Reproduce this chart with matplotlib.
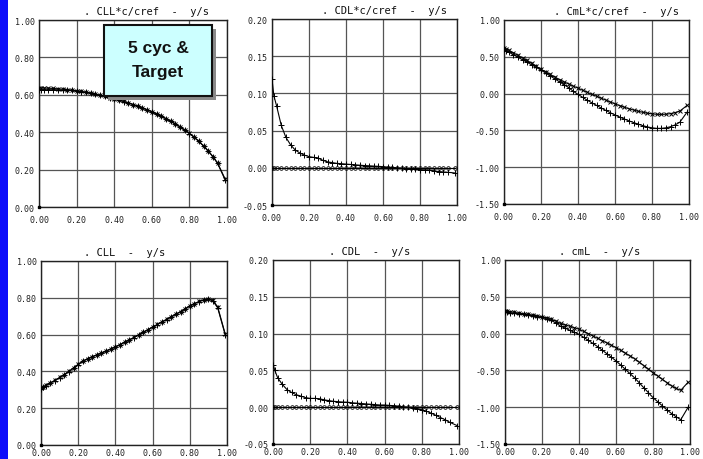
"""
Spanwise load distributions: 5-cycle design vs. target.

Six panels of sectional lift, drag and pitching moment against y/s,
each shown both chord-weighted (x c/cref) and as plain coefficients.
"""

import matplotlib.pyplot as plt
from matplotlib.patches import Rectangle

# ---------------------------------------------------------------------------
# Data (spanwise stations and sectional values)
# ---------------------------------------------------------------------------

eta = [0.000, 0.010, 0.025, 0.050, 0.075, 0.100, 0.125, 0.150, 0.175, 0.200,
       0.225, 0.250, 0.275, 0.300, 0.325, 0.350, 0.375, 0.400,
       0.425, 0.450, 0.475, 0.500, 0.525, 0.550, 0.575, 0.600,
       0.625, 0.650, 0.675, 0.700, 0.725, 0.750, 0.775, 0.800,
       0.825, 0.850, 0.875, 0.900, 0.925, 0.950, 0.990]

# CLL*c/cref
cllc_target = [0.636, 0.636, 0.636, 0.635, 0.634, 0.632, 0.630, 0.628, 0.625, 0.622,
               0.618, 0.614, 0.609, 0.603, 0.597, 0.591, 0.585, 0.578,
               0.571, 0.565, 0.557, 0.548, 0.540, 0.530, 0.520, 0.510,
               0.498, 0.486, 0.473, 0.459, 0.445, 0.429, 0.412, 0.394,
               0.374, 0.352, 0.327, 0.300, 0.270, 0.235, 0.150]
cllc_5cyc = [0.624, 0.625, 0.626, 0.627, 0.627, 0.627, 0.626, 0.625, 0.623, 0.620,
             0.617, 0.613, 0.608, 0.603, 0.597, 0.591, 0.585, 0.578,
             0.571, 0.564, 0.556, 0.548, 0.539, 0.529, 0.519, 0.509,
             0.497, 0.485, 0.472, 0.458, 0.444, 0.428, 0.411, 0.393,
             0.373, 0.351, 0.326, 0.299, 0.269, 0.233, 0.145]

# CDL*c/cref
cdlc_target = [0.0, 0.0, 0.0, 0.0, 0.0, 0.0, 0.0, 0.0, 0.0, 0.0,
               0.0, 0.0, 0.0, 0.0, 0.0, 0.0, 0.0, 0.0,
               0.0, 0.0, 0.0, 0.0, 0.0, 0.0, 0.0, 0.0,
               0.0, 0.0, 0.0, 0.0, 0.0, 0.0, 0.0, 0.0,
               0.0, 0.0, 0.0, 0.0, 0.0, 0.0, 0.0]
cdlc_5cyc = [0.119, 0.097, 0.083, 0.057, 0.041, 0.031, 0.024, 0.020, 0.017, 0.015,
             0.014, 0.013, 0.010, 0.008, 0.007, 0.006, 0.0055, 0.005,
             0.0045, 0.004, 0.0035, 0.003, 0.0027, 0.0023, 0.002, 0.0015,
             0.001, 0.0005, 0.0, -0.0005, -0.001, -0.0015, -0.002, -0.0025,
             -0.003, -0.0035, -0.004, -0.005, -0.0055, -0.006, -0.007]

# CmL*c/cref
cmlc_target = [0.625, 0.610, 0.590, 0.555, 0.520, 0.485, 0.450, 0.410, 0.370, 0.330,
               0.295, 0.260, 0.225, 0.190, 0.160, 0.130, 0.100, 0.075,
               0.045, 0.018, -0.010, -0.036, -0.062, -0.088, -0.114, -0.140,
               -0.163, -0.185, -0.205, -0.223, -0.240, -0.254, -0.266, -0.275,
               -0.281, -0.283, -0.280, -0.272, -0.258, -0.238, -0.160]
cmlc_5cyc = [0.600, 0.585, 0.565, 0.530, 0.495, 0.460, 0.425, 0.390, 0.355, 0.320,
             0.280, 0.240, 0.200, 0.160, 0.120, 0.080, 0.030, -0.010,
             -0.050, -0.090, -0.125, -0.160, -0.195, -0.228, -0.260, -0.290,
             -0.318, -0.345, -0.370, -0.393, -0.415, -0.435, -0.452, -0.465,
             -0.472, -0.472, -0.465, -0.450, -0.425, -0.390, -0.250]

# CLL
cll_target = [0.310, 0.316, 0.324, 0.338, 0.352, 0.367, 0.383, 0.400, 0.419, 0.438,
              0.456, 0.469, 0.480, 0.490, 0.500, 0.511, 0.522, 0.534,
              0.546, 0.559, 0.572, 0.585, 0.599, 0.613, 0.627, 0.641,
              0.655, 0.669, 0.683, 0.697, 0.711, 0.725, 0.740, 0.756,
              0.769, 0.780, 0.789, 0.795, 0.786, 0.750, 0.605]
cll_5cyc = [0.306, 0.313, 0.322, 0.336, 0.350, 0.366, 0.382, 0.399, 0.418, 0.437,
            0.455, 0.468, 0.479, 0.489, 0.499, 0.510, 0.521, 0.533,
            0.545, 0.558, 0.571, 0.584, 0.598, 0.612, 0.626, 0.640,
            0.654, 0.668, 0.682, 0.696, 0.710, 0.724, 0.739, 0.755,
            0.768, 0.779, 0.788, 0.793, 0.782, 0.745, 0.600]

# CDL
cdl_target = [0.0, 0.0, 0.0, 0.0, 0.0, 0.0, 0.0, 0.0, 0.0, 0.0,
              0.0, 0.0, 0.0, 0.0, 0.0, 0.0, 0.0, 0.0,
              0.0, 0.0, 0.0, 0.0, 0.0, 0.0, 0.0, 0.0,
              0.0, 0.0, 0.0, 0.0, 0.0, 0.0, 0.0, 0.0,
              0.0, 0.0, 0.0, 0.0, 0.0, 0.0, 0.0]
cdl_5cyc = [0.058, 0.050, 0.040, 0.031, 0.024, 0.020, 0.017, 0.015, 0.013, 0.012,
            0.012, 0.0115, 0.010, 0.009, 0.008, 0.0075, 0.007, 0.0068,
            0.006, 0.0055, 0.005, 0.0045, 0.004, 0.0035, 0.003, 0.003,
            0.0025, 0.002, 0.0015, 0.0005, 0.0, -0.0005, -0.002, -0.0035,
            -0.0055, -0.008, -0.011, -0.014, -0.017, -0.0205, -0.025]

# cmL
cml_target = [0.307, 0.303, 0.297, 0.288, 0.279, 0.270, 0.261, 0.251, 0.241, 0.230,
              0.215, 0.196, 0.170, 0.140, 0.120, 0.100, 0.080, 0.060,
              0.030, 0.000, -0.032, -0.063, -0.094, -0.126, -0.158, -0.190,
              -0.227, -0.264, -0.302, -0.340, -0.387, -0.434, -0.482, -0.530,
              -0.575, -0.620, -0.665, -0.710, -0.745, -0.770, -0.660]
cml_5cyc = [0.290, 0.287, 0.282, 0.276, 0.270, 0.265, 0.255, 0.244, 0.232, 0.220,
            0.200, 0.178, 0.145, 0.100, 0.075, 0.045, 0.018, -0.010,
            -0.050, -0.090, -0.133, -0.176, -0.224, -0.272, -0.321, -0.370,
            -0.427, -0.484, -0.542, -0.600, -0.667, -0.735, -0.802, -0.870,
            -0.925, -0.980, -1.035, -1.086, -1.130, -1.170, -1.000]

x_ticks = [0.0, 0.2, 0.4, 0.6, 0.8, 1.0]
cl_ticks = [0.0, 0.2, 0.4, 0.6, 0.8, 1.0]
cd_ticks = [-0.05, 0.0, 0.05, 0.10, 0.15, 0.20]
cm_ticks = [-1.5, -1.0, -0.5, 0.0, 0.5, 1.0]

# ---------------------------------------------------------------------------
# Layout (pixel boxes on a 703 x 460 canvas)
# ---------------------------------------------------------------------------

W, H = 703, 460

PANELS = [
    # title, ticks, target, 5cyc, target marker, box (l, t, r, b), title x, x-label pad
    (". CLL*c/cref  -  y/s", cl_ticks, cllc_target, cllc_5cyc, "x", (39, 21, 227, 208), 0.24, 6),
    (". CDL*c/cref  -  y/s", cd_ticks, cdlc_target, cdlc_5cyc, "o", (272, 20, 457, 206), 0.27, 6),
    (". CmL*c/cref  -  y/s", cm_ticks, cmlc_target, cmlc_5cyc, "x", (504, 21, 689, 205), 0.27, 6),
    (". CLL  -  y/s", cl_ticks, cll_target, cll_5cyc, "x", (41, 262, 227, 446), 0.23, 2.5),
    (". CDL  -  y/s", cd_ticks, cdl_target, cdl_5cyc, "o", (273, 261, 459, 445), 0.30, 2.5),
    (". cmL  -  y/s", cm_ticks, cml_target, cml_5cyc, "x", (505, 261, 690, 445), 0.29, 2.5),
]

MONO = "DejaVu Sans Mono"


def px_rect(left, top, right, bottom):
    """Pixel box -> figure-fraction [x, y, w, h]."""
    return [left / W, 1 - bottom / H, (right - left) / W, (bottom - top) / H]


def draw_panel(fig, title, yticks, target, cyc5, tmark, box, title_x, xpad):
    ax = fig.add_axes(px_rect(*box))
    ax.set_xlim(x_ticks[0], x_ticks[-1])
    ax.set_ylim(yticks[0], yticks[-1])

    ax.set_xticks(x_ticks)
    ax.set_xticklabels([f"{v:.2f}" for v in x_ticks], family=MONO, fontsize=6)
    ax.set_yticks(yticks)
    ax.set_yticklabels([f"{v:.2f}" for v in yticks], family=MONO, fontsize=6)
    ax.tick_params(length=0, colors="#222222")
    ax.tick_params(axis="x", pad=xpad)
    ax.tick_params(axis="y", pad=3)
    ax.grid(True, color="#555555", linewidth=0.9)
    for sp in ax.spines.values():
        sp.set_color("#222222")
        sp.set_linewidth(1.0)

    if tmark == "o":
        ax.plot(eta, target, "-", color="black", linewidth=0.7,
                marker="o", markersize=2.6, markerfacecolor="none",
                markeredgewidth=0.6, zorder=3)
    else:
        ax.plot(eta, target, "-", color="black", linewidth=0.8,
                marker="x", markersize=3.5, markeredgewidth=0.7, zorder=3)
    ax.plot(eta, cyc5, "-", color="black", linewidth=0.8,
            marker="+", markersize=4.5, markeredgewidth=0.7, zorder=3)

    # little origin marker at the lower-left corner
    ax.plot([x_ticks[0]], [yticks[0]], "s", color="black", markersize=2,
            clip_on=False, zorder=4)

    ax.text(title_x, 1.02, title, transform=ax.transAxes, ha="left",
            va="bottom", family=MONO, fontsize=7.5, color="#111111")
    return ax


fig = plt.figure(figsize=(W / 100, H / 100), dpi=100)
fig.patch.set_facecolor("white")

# blue strip down the left edge
fig.patches.append(Rectangle((0, 0), 8 / W, 1, transform=fig.transFigure,
                             facecolor="#0d0dfa", edgecolor="none"))

for spec in PANELS:
    draw_panel(fig, *spec)

# callout box with drop shadow
bx0, by0, bx1, by1 = 104, 26, 212, 97
shadow = Rectangle(((bx0 + 4) / W, 1 - (by1 + 4) / H), (bx1 - bx0) / W,
                   (by1 - by0) / H, transform=fig.transFigure,
                   facecolor="#8a8a8a", edgecolor="none", zorder=9)
callout = Rectangle((bx0 / W, 1 - by1 / H), (bx1 - bx0) / W, (by1 - by0) / H,
                    transform=fig.transFigure, facecolor="#ccffff",
                    edgecolor="#111111", linewidth=1.5, zorder=10)
fig.patches.extend([shadow, callout])
for label, base in (("5 cyc &", 53), ("Target", 77)):
    fig.text(158 / W, 1 - base / H, label, ha="center", va="baseline",
             family="Liberation Sans", fontweight="bold", fontsize=12.5,
             color="#111111", zorder=11)

fig.savefig("out.png", dpi=100)
plt.close(fig)
